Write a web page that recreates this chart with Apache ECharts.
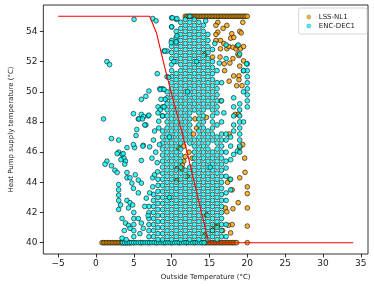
<!DOCTYPE html>
<html><head><meta charset="utf-8">
<script src="https://cdn.jsdelivr.net/npm/echarts@6/dist/echarts.min.js"></script>
<style>html,body{margin:0;padding:0;background:#fff}#c{width:374px;height:286px}</style>
</head><body><div id="c"></div>
<script>
// ---------- DATA ----------
const xTicks = [-5, 0, 5, 10, 15, 20, 25, 30, 35];
const yTicks = [40, 42, 44, 46, 48, 50, 52, 54];

// red line (heating curve)
const curveX = [-5, 7.1, 8, 9, 10, 11, 12, 13, 14, 14.9, 34];
const curveY = [55, 55, 53.9, 51.8, 49.85, 48.0, 46.1, 44.0, 41.9, 40, 40];

// LSS-NL1 (orange)
const lssTopRowX = [11.8,12.0,12.2,12.4,12.6,12.8,13.0,13.2,13.4,13.6,13.8,14.0,14.2,14.4,14.6,14.8,15.0,15.2,15.4,15.6,15.8,16.0,16.2,16.4,16.6,16.8,17.0,17.2,17.4,17.6,17.8,18.0,18.2,18.4,18.6,18.8,19.0,19.2,19.4,19.6,19.8,20.0];
const lssBottomRowX = [0.8,1.0,1.2,1.4,1.6,1.8,2.0,2.2,2.4,2.6,2.8,3.0,3.2,3.4,3.6,3.8,4.0,4.2,4.4,4.6,5,6,7,8,9,10,11,12,13,14,14.4,14.6,14.8,15.0,15.2,15.4,15.6,15.8,16.0,16.2,16.4,16.6,16.8,17.0,17.2,17.4,17.6,17.8,18.0,18.2,18.4,18.6,20.0];
const lssScatter = [
 [16.1,54.6],[16.1,53.95],[16.45,53.4],[16.45,52.85],[16.8,54.2],[16.9,53.2],[16.95,51.85],[17.3,54.4],[17.3,52.85],[17.55,53.0],
 [17.8,53.55],[17.95,53.85],[18.1,52.95],[18.1,52.2],[18.2,53.6],[18.5,52.85],[18.7,53.05],[18.75,52.5],[18.9,52.4],[18.9,51.05],
 [18.9,50.8],[19.0,54.0],[19.0,51.7],[19.1,52.85],[19.2,53.9],[19.3,50.4],[19.5,53.0],[19.5,52.05],[15.85,54.4],[15.85,53.8],
 [15.85,53.4],[14.4,52.5],[15.4,52.3],[17.6,50.7],[18.2,51.05],[18.6,50.4],[19.4,54.6],[16.4,52.3],[17.0,51.4],[17.7,51.9],
 [16.5,49.4],[18.4,48.5],[17.6,47.2],[14.6,48.3],[13.1,48.2],[12.9,47.2],[11.6,46.4],[11.6,45.4],[11.8,45.7],[10.9,46.3],
 [11.4,45.15],[10.7,44.9],[10.7,44.15],[11.4,44.9],[18.85,48.5],[12.3,46.0],[12.7,45.6],[13.3,47.6],[12.1,44.4],
 [19.4,46.5],[19.0,46.3],[19.65,45.6],[19.7,44.66],[19.0,44.3],[17.7,44.2],[17.4,44.0],[18.0,43.5],[20.0,43.7],[20.0,43.25],
 [18.8,42.65],[20.0,42.3],[18.1,42.25],[17.1,42.3],[17.3,42.05],[18.0,41.2],[20.0,41.1],[16.1,41.1],[17.5,41.15],[17.8,40.65],
 [16.75,40.8],[15.4,40.8],[15.6,41.1],[14.4,40.5],[14.6,41.85]
];

// ENC-DEC1 (cyan): columns [x, [y values]]
const encCols = [
 [5.0, [40.4,40.8,41.2,41.6,42.0]],
 [7.0, [40.4,40.8,41.2,41.6,42.0,42.4]],
 [7.6, [40.4,40.8,41.2,41.6,42.0,42.4,42.8,43.2]],
 [8.2, [40.2,40.6,41.0,41.4,41.8,42.2,42.6,43.0,43.4,43.8,44.2]],
 [8.8, [40.2,40.6,41.0,41.4,41.8,42.2,42.6,43.0,43.4,43.8,44.2,44.6,45.0,45.4,45.8,46.2,46.6,47.0,47.4,48.4,49.0,50.2]],
 [9.4, [40.4,40.8,41.2,41.6,42.0,42.4,42.8,43.2,43.6,44.0,44.4,44.8,45.2,45.6,46.0,46.4,46.8,47.2,47.6,48.0,48.4,48.8,49.2,49.6,50.0,51.0,52.7]],
 [10.0,[40.2,40.6,41.0,41.4,41.8,42.2,42.6,43.0,43.4,43.8,44.2,44.6,45.0,45.4,45.8,46.2,46.6,47.0,47.4,47.8,48.2,48.6,49.0,49.4,49.8,50.2,50.6,51.0,51.4,51.8,52.2,52.6,53.0,53.4,54.3,54.9]],
 [10.6,[40.4,40.8,41.2,41.6,42.0,42.4,42.8,43.2,43.6,44.0,44.4,44.8,45.2,45.6,46.0,46.4,46.8,47.2,47.6,48.0,48.4,48.8,49.2,49.6,50.0,50.4,50.8,51.2,52.0,52.4,52.8,53.2,53.6,54.0,54.8]],
 [11.2,[40.2,40.6,41.0,41.4,41.8,42.2,42.6,43.0,43.4,43.8,44.2,44.6,45.0,45.4,45.8,46.2,46.6,47.0,47.4,47.8,48.2,48.6,49.0,49.4,49.8,50.2,50.6,51.0,51.4,51.8,52.2,52.6,53.0,53.4,53.8,54.2,54.6]],
 [11.8,[40.4,40.8,41.2,41.6,42.0,42.4,42.8,43.2,43.6,44.0,44.4,44.8,46.8,47.2,47.6,48.0,48.4,48.8,49.2,49.6,50.0,50.4,50.8,51.2,51.6,52.0,52.4,52.8,53.2,53.6,54.0,54.4,54.8]],
 [12.4,[40.2,40.6,41.0,41.4,41.8,42.2,42.6,43.0,43.4,43.8,44.2,44.6,45.0,46.6,47.0,47.4,47.8,48.2,48.6,49.0,49.4,49.8,50.2,50.6,51.0,51.4,51.8,52.2,52.6,53.0,53.4,53.8,54.2,54.6,55.0]],
 [13.0,[40.4,40.8,41.2,41.6,42.0,42.4,42.8,43.2,43.6,44.0,44.4,44.8,45.2,45.6,46.0,46.4,46.8,48.8,49.2,49.6,50.0,50.4,50.8,51.2,51.6,52.0,52.4,52.8,53.2,53.6,54.0,54.4,54.8]],
 [13.6,[40.2,40.6,41.0,41.4,41.8,42.2,42.6,43.0,43.4,43.8,44.2,44.6,45.0,45.4,45.8,46.2,46.6,47.0,47.4,47.8,48.2,48.6,49.0,49.4,49.8,50.2,50.6,51.0,51.4,51.8,52.2,52.6,53.0,53.4,53.8,54.2,54.6]],
 [14.2,[40.4,40.8,41.2,41.6,42.0,42.4,42.8,43.2,43.6,44.0,44.4,44.8,45.2,45.6,46.0,46.4,46.8,47.2,47.6,48.0,48.4,48.8,49.2,49.6,50.0,50.4,50.8,51.2,51.6,52.0,52.4,52.8,53.2,53.6,54.0,54.4]],
 [14.8,[40.2,40.6,41.0,41.4,41.8,42.2,42.6,43.0,43.4,43.8,44.2,44.6,45.0,45.4,45.8,46.2,46.6,47.0,47.4,49.0,49.4,49.8,50.2,50.6,51.0,51.4,51.8,52.2,52.6,53.0,53.4,53.8]],
 [15.4,[40.4,40.8,41.2,41.6,42.0,42.4,42.8,43.2,43.6,44.0,44.4,44.8,45.2,45.6,46.0,46.8,47.2,47.6,48.0,48.4,48.8,49.2,49.6,50.0,50.4,50.8,51.2,51.6,52.0,52.8]],
 [16.0,[40.2,40.6,41.0,41.4,41.8,42.2,42.6,43.0,43.4,43.8,44.2,44.6,45.0,45.4,45.8,46.2,46.6,47.0,47.8,48.6,49.0,49.4,49.8,50.2,50.6,51.4]],
 [16.6,[40.4,40.8,41.2,41.6,42.0,42.4,42.8,43.2,43.6,44.0,44.4,44.8,45.2,45.6,46.0,46.4,46.8,47.2,48.0,49.4,50.6]],
 [17.2,[40.4,41.2,42.8,43.3,44.4,44.95,45.4,46.0,46.8,47.2,52.2,53.1]],
 [17.8,[43.5,44.2,45.5,46.4,47.0]],
 [18.2,[45.85,47.4,47.8,48.4,49.0,49.6]],
 [18.7,[46.07]],
 [19.0,[46.0,46.4,46.8,47.2,47.6,48.0,48.4,48.8,49.2,52.5]],
 [19.5,[48.0,50.0,51.4]],
 [20.0,[49.0,49.4,49.8,50.2,50.6,51.0,51.4,51.85]]
];
const encBottomRowX = [3.5,3.8,4.1,4.4,4.7,5.0,5.3,5.6,5.9,6.2,6.5,6.8,7.1,7.4,7.7,8.0,8.3,8.6,8.9,9.2,9.5,9.8,10.1,10.4,10.7,11.0,11.3,11.6,11.9,12.2,12.5,12.8,13.1,13.4,13.7,14.0,14.3];
const encSparse = [
 [1.45,52.0],[1.8,51.8],[1.0,48.2],[2.05,46.9],[3.0,46.8],[4.95,48.55],[5.4,47.5],[6.0,49.5],[6.6,49.7],[7.0,50.05],
 [8.1,51.2],[8.45,50.2],[9.0,52.7],[9.95,53.25],[9.6,50.95],[6.0,48.5],[6.3,48.35],[5.6,48.2],[6.9,48.4],[5.3,47.1],
 [6.6,47.8],[7.75,47.4],[8.3,48.05],[9.0,49.0],[8.8,48.4],[5.04,54.8],[7.5,54.85],[7.95,54.7],[10.1,54.9],[10.7,54.85],
 [10.0,54.3],[10.7,53.7],[10.6,53.3],[9.1,52.7],
 [1.45,45.4],[1.2,45.2],[2.05,45.1],[2.5,44.8],[2.8,44.65],[3.0,46.0],[3.45,45.85],[3.7,45.6],[3.9,45.4],[5.1,46.3],
 [6.25,46.45],[7.1,46.35],[6.0,45.45],[4.1,44.65],[4.1,44.3],[4.5,44.3],[4.75,43.95],[5.2,44.5],[5.6,44.15],[6.0,43.95],
 [4.95,43.6],[5.6,43.3],[3.0,43.85],[3.0,43.5],[3.0,43.15],[3.0,42.8],[3.25,42.5],[3.0,42.2],[4.1,42.8],[4.5,42.65],
 [4.85,42.5],[4.3,42.3],[3.45,41.6],[3.9,41.3],[4.3,41.15],[4.5,40.95],[3.75,40.8],[3.45,40.3],[4.0,40.2],[5.6,41.6],
 [6.0,41.3],[6.25,40.95],[5.8,40.6],[6.65,42.95],[7.1,43.3],[7.5,44.3],[7.75,44.5],[8.15,44.7],[7.5,43.7],[6.45,42.4],
 [6.9,41.8],[4.1,46.3],[4.95,46.5],[6.2,46.4],[3.6,45.9],[3.3,45.5],[3.8,45.2],[8.2,49.0],[8.5,50.15],[9.0,50.15],
 [9.15,49.5],[5.7,48.2],[6.15,48.2],[7.0,48.45],[6.45,47.8],[2.8,45.9],[7.4,45.6],[7.9,46.0],[7.6,46.8],[8.1,45.3],
 [8.4,46.5],[8.3,47.6],[8.5,48.8],[8.6,49.5],[8.2,48.6],[18.8,53.1],[19.9,51.85],[19.5,51.4],
 [16.9,48.6],[16.3,51.9],[15.7,53.2],[14.5,54.7],[9.7,47.0],[9.7,43.0],[12.1,50.0],[13.3,52.0],[15.1,45.0],[10.3,52.0]
];

// ---------- build series data ----------
const lssData = [];
lssTopRowX.forEach(x => lssData.push([x, 55]));
lssBottomRowX.forEach(x => lssData.push([x, 40]));
lssScatter.forEach(p => lssData.push(p));

const encData = [];
encBottomRowX.forEach(x => encData.push([x, 40]));
encCols.forEach(c => c[1].forEach(y => encData.push([c[0], y])));
encSparse.forEach(p => encData.push(p));

const curveData = curveX.map((x, i) => [x, curveY[i]]);

const fmtMinus = v => (v < 0 ? '\u2212' + Math.abs(v) : String(v));

const chart = echarts.init(document.getElementById('c'), null, {renderer: 'canvas'});
chart.setOption({
  animation: false,
  grid: {left: 34, right: 6, top: 5, bottom: 32, show: true, borderColor: '#000', borderWidth: 0.8},
  legend: {
    data: ['LSS-NL1', 'ENC-DEC1'], orient: 'vertical', right: 7, top: 8,
    selectedMode: false, icon: 'circle', itemWidth: 4, itemHeight: 4, itemGap: 1,
    itemStyle: {borderWidth: 0.3},
    padding: [5, 12, 4, 8], borderColor: '#ccc', borderWidth: 0.8, borderRadius: 2,
    backgroundColor: 'rgba(255,255,255,0.8)',
    textStyle: {fontSize: 7, fontFamily: 'DejaVu Sans', color: '#222', lineHeight: 8, padding: [0, 0, 0, 3]}
  },
  xAxis: {
    type: 'value', min: -6.95, max: 35.95,
    name: 'Outside Temperature (°C)', nameLocation: 'middle', nameGap: 20,
    nameTextStyle: {fontSize: 7, fontFamily: 'DejaVu Sans', color: '#222'},
    axisLine: {show: false, onZero: false}, splitLine: {show: false},
    axisTick: {show: true, length: 3.5, customValues: xTicks, lineStyle: {color: '#000', width: 0.8}},
    axisLabel: {customValues: xTicks, fontSize: 9, fontFamily: 'DejaVu Sans', color: '#222', margin: 5, formatter: fmtMinus}
  },
  yAxis: {
    type: 'value', min: 39.25, max: 55.75,
    name: 'Heat Pump supply temperature (°C)', nameLocation: 'middle', nameGap: 26,
    nameTextStyle: {fontSize: 7, fontFamily: 'DejaVu Sans', color: '#222'},
    axisLine: {show: false, onZero: false}, splitLine: {show: false},
    axisTick: {show: true, length: 3.5, customValues: yTicks, lineStyle: {color: '#000', width: 0.8}},
    axisLabel: {customValues: yTicks, fontSize: 9, fontFamily: 'DejaVu Sans', color: '#222', margin: 6}
  },
  series: [
    {name: 'LSS-NL1', type: 'scatter', data: lssData, symbolSize: 4.7,
     itemStyle: {color: '#ffa500', borderColor: '#111', borderWidth: 0.8}, z: 2},
    {name: 'ENC-DEC1', type: 'scatter', data: encData, symbolSize: 4.7,
     itemStyle: {color: '#00ffff', borderColor: '#111', borderWidth: 0.8}, z: 3},
    {name: 'curve', type: 'line', data: curveData, showSymbol: false, symbol: 'none',
     lineStyle: {color: '#ff0000', width: 1.1}, z: 4}
  ]
});
</script></body></html>
